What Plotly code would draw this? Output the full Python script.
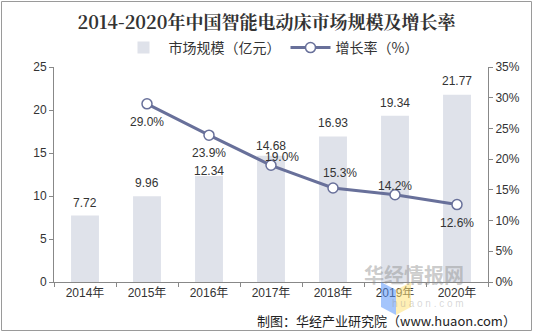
import plotly.graph_objects as go

years = ["2014年", "2015年", "2016年", "2017年", "2018年", "2019年", "2020年"]
market_size = [7.72, 9.96, 12.34, 14.68, 16.93, 19.34, 21.77]
growth_rate = [None, 29.0, 23.9, 19.0, 15.3, 14.2, 12.6]
left_ticks = [0, 5, 10, 15, 20, 25]
right_ticks = [0, 5, 10, 15, 20, 25, 30, 35]

# label offsets in pixels (style only)
bar_label_dy = [13, 13.5, 4.5, 10, 13.5, 13, 13.3]
rate_label_dx = [0, 0, 0, 11, 7, 0, 0]
rate_label_dy = [0, -18.5, -18, 8.6, 15.3, 8.6, -18.3]

W, H = 533, 335
L, R, T, B = 54, 488, 67, 282
pw, ph = R - L, B - T

def px(x):
    return (x - L) / pw

def py(y):
    return (B - y) / ph

LBL_FONT = dict(size=12, color="#333333", family="Liberation Sans, Arial")

fig = go.Figure()
fig.add_trace(go.Bar(
    x=years, y=market_size, name="市场规模（亿元）",
    marker=dict(color="#dfe2ea", line=dict(width=0)),
))
fig.add_trace(go.Scatter(
    x=years, y=growth_rate, name="增长率（%）", yaxis="y2",
    mode="lines+markers",
    line=dict(color="#68709a", width=3),
    marker=dict(symbol="circle", size=10, color="white", line=dict(color="#68709a", width=1.5)),
    cliponaxis=False,
))
for yr, v, dy in zip(years, market_size, bar_label_dy):
    fig.add_annotation(x=yr, y=v, yref="y", text=f"{v:.2f}", showarrow=False,
                       yanchor="middle", yshift=dy, font=LBL_FONT)
for yr, v, dx, dy in zip(years, growth_rate, rate_label_dx, rate_label_dy):
    if v is None:
        continue
    fig.add_annotation(x=yr, y=v, yref="y2", text=f"{v:.1f}%", showarrow=False,
                       yanchor="middle", xshift=dx, yshift=dy, font=LBL_FONT)

fig.update_layout(
    width=W, height=H,
    margin=dict(l=L, r=W - R, t=T, b=H - B),
    paper_bgcolor="white", plot_bgcolor="white",
    bargap=0.55,
    font=dict(family="Liberation Sans, Arial, Noto Sans CJK SC", size=12, color="#333333"),
    title=dict(text="<b>2014-2020年中国智能电动床市场规模及增长率</b>",
               x=0.5, xanchor="center", y=1 - 23 / H, yanchor="middle",
               font=dict(size=18, color="#333333", family="Noto Serif CJK SC, Noto Sans CJK SC")),
    legend=dict(orientation="h", x=0.5, xanchor="center", y=1 + (T - 48) / ph, yanchor="middle",
                font=dict(size=14, color="#333333", family="Noto Sans CJK SC"),
                itemwidth=40, bgcolor="rgba(0,0,0,0)"),
    xaxis=dict(showline=True, linecolor="#888888", ticks="outside", tickson="boundaries",
               ticklen=4, tickcolor="#888888", showgrid=False,
               tickfont=dict(size=12, color="#333333", family="Liberation Sans, Noto Sans CJK SC")),
    yaxis=dict(range=[0, 25], tickvals=left_ticks, showgrid=False, zeroline=False,
               showline=True, linecolor="#888888", ticks="outside", ticklen=4, tickcolor="#888888",
               tickfont=dict(size=12, color="#333333")),
    yaxis2=dict(range=[0, 35], tickvals=right_ticks, ticktext=[f"{t}%" for t in right_ticks],
                overlaying="y", side="right", showgrid=False, zeroline=False,
                showline=True, linecolor="#888888", ticks="outside", ticklen=4, tickcolor="#888888",
                tickfont=dict(size=12, color="#333333")),
)

# watermark logo
fig.add_shape(type="path", xref="paper", yref="paper",
              path=f"M {px(381)} {py(282)} L {px(396)} {py(290)} L {px(396)} {py(315)} L {px(381)} {py(307)} Z",
              fillcolor="rgba(90,150,250,0.55)", line=dict(width=0), layer="above")
fig.add_shape(type="path", xref="paper", yref="paper",
              path=f"M {px(396)} {py(290)} L {px(411)} {py(282)} L {px(411)} {py(307)} L {px(396)} {py(315)} Z",
              fillcolor="rgba(255,225,120,0.55)", line=dict(width=0), layer="above")
fig.add_annotation(xref="paper", yref="paper", x=px(466), y=py(291), text="<b>华经情报网</b>",
                   showarrow=False, font=dict(size=20, color="rgba(140,140,140,0.45)", family="Noto Sans CJK SC"))
fig.add_annotation(xref="paper", yref="paper", x=px(466), y=py(311), text="h u a o n . c o m",
                   showarrow=False, font=dict(size=10, color="rgba(140,140,140,0.35)", family="Liberation Sans"))

fig.add_annotation(xref="paper", yref="paper", x=px(518), y=py(320), xanchor="right", yanchor="middle",
                   text="制图：华经产业研究院（www.huaon.com）", showarrow=False,
                   font=dict(size=13, color="#222222", family="Noto Sans CJK SC"))

fig.add_shape(type="rect", xref="paper", yref="paper",
              x0=px(1.5), x1=px(531.5), y0=py(330.5), y1=py(1.5),
              line=dict(color="#9a9a9a", width=1), fillcolor="rgba(0,0,0,0)")

fig.write_html("out.html")
